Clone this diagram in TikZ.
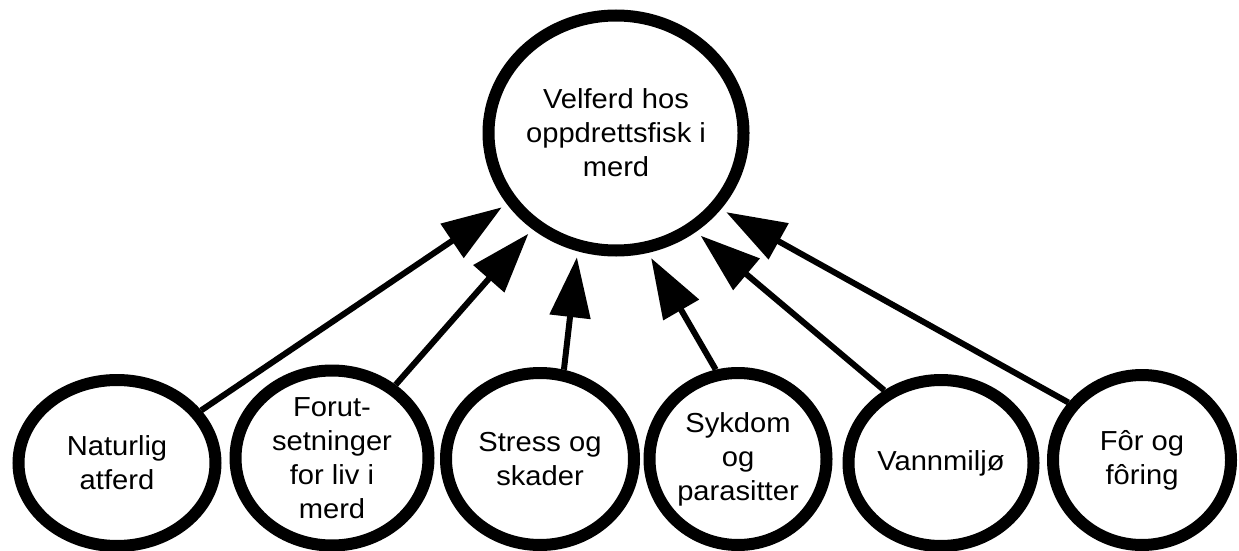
\documentclass[tikz,border=0pt]{standalone}
\usepackage{fontspec}
\setmainfont{Liberation Sans}[FakeStretch=1.06]
\usetikzlibrary{shapes.geometric,arrows.meta}
\begin{document}
\begin{tikzpicture}[x=1pt,y=-1pt,
  bub/.style={draw=black,line width=12pt,ellipse,inner sep=0pt,align=center,
    font=\fontsize{27.5}{34}\selectfont,fill=white},
  conn/.style={line width=6pt,-{Triangle[length=60pt,width=40pt]},shorten >=6pt}]
\useasboundingbox (0,0) rectangle (1239,551);
\node[bub,minimum width=255pt,minimum height=235pt] (top) at (616,133) {Velferd hos\\oppdrettsfisk i\\merd};
\node[bub,minimum width=197pt,minimum height=166pt] (nat) at (117,463) {Naturlig\\atferd};
\node[bub,minimum width=193pt,minimum height=175pt] (forut) at (332,458) {Forut-\\setninger\\for liv i\\merd};
\node[bub,minimum width=188pt,minimum height=172pt] (stress) at (540,459) {Stress og\\skader};
\node[bub,minimum width=177pt,minimum height=172pt] (syk) at (738,459) {Sykdom\\og\\parasitter};
\node[bub,minimum width=185pt,minimum height=166pt] (vann) at (941,463) {Vannmiljø};
\node[bub,minimum width=178pt,minimum height=170pt] (for) at (1142,460) {Fôr og\\fôring};
\draw[conn] (nat.32.6) -- (top.213.6);
\draw[conn] (forut.49.4) -- (top.229.2);
\draw[conn] (stress.75.5) -- (top.252.7);
\draw[conn] (syk.104.2) -- (top.285.3);
\draw[conn] (vann.128.9) -- (top.309.4);
\draw[conn] (for.142.5) -- (top.324.8);
\end{tikzpicture}
\end{document}
